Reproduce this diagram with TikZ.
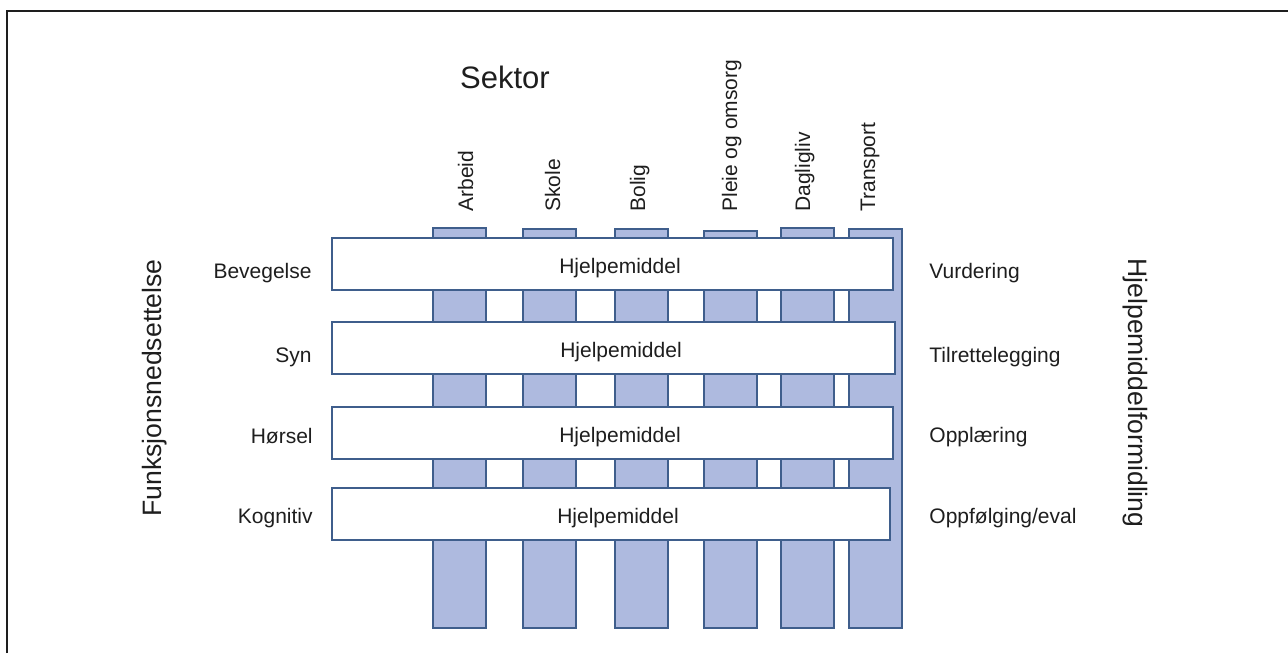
\documentclass[tikz,border=0pt]{standalone}
\usepackage{fontspec}
\setmainfont{Liberation Sans}
\usepackage{xcolor}
\usetikzlibrary{positioning}
\definecolor{sekfill}{HTML}{AEBADF}
\definecolor{sekedge}{HTML}{3F5E8C}
\definecolor{tekst}{HTML}{1E1E1E}

\begin{document}
\begin{tikzpicture}[x=0.5pt, y=-0.5pt,
        every node/.style={text=tekst, font=\fontsize{10.5}{12}\selectfont},
        sektor/.style={draw=sekedge, fill=sekfill, line width=0.75pt, minimum width=26.5pt, inner sep=0pt, anchor=north west},
        hjelp/.style={draw=sekedge, fill=white, line width=0.75pt, minimum height=26pt, inner sep=0pt, anchor=north west},
        kolonne/.style={rotate=90, anchor=base west, inner sep=0pt},
        rad/.style={anchor=base east, inner sep=0pt},
        form/.style={anchor=base west, inner sep=0pt}]
        \useasboundingbox (0,0) rectangle (1288,653);
        \draw[line width=1pt, color=tekst] (7,653) -- (7,11) -- (1288,11);

        %\tikzset{sektor/.append style={opacity=0.5}}
        \node[sektor, minimum height=200pt] (arb) at (432,227) {};
        \node[sektor, minimum height=199.5pt] (sko) at (522,228) {};
        \node[sektor, minimum height=199.5pt] (bol) at (614,228) {};
        \node[sektor, minimum height=198.5pt] (ple) at (703,230) {};
        \node[sektor, minimum height=200pt] (dag) at (780,227) {};
        \node[sektor, minimum height=199.5pt] (tra) at (848,228) {};

        \node[kolonne] (larb) at (473,212) {Arbeid};
        \node[kolonne] (lsko) at (560,212) {Skole};
        \node[kolonne] (lbol) at (645,212) {Bolig};
        \node[kolonne] (lple) at (737,212) {Pleie og omsorg};
        \node[kolonne] (ldag) at (810,212) {Dagligliv};
        \node[kolonne] (ltra) at (875,212) {Transport};
        \node[anchor=base, font=\fontsize{15.5}{18}\selectfont] (sek) at (505,88) {Sektor};

        \node[hjelp, minimum width=280.5pt] (r1) at (331,237) {};
        \node[hjelp, minimum width=281.5pt] (r2) at (331,321) {};
        \node[hjelp, minimum width=280.5pt] (r3) at (331,406) {};
        \node[hjelp, minimum width=279pt] (r4) at (331,487) {};

        \node[anchor=base] (h1) at (620,273) {Hjelpemiddel};
        \node[anchor=base] (h2) at (621,357) {Hjelpemiddel};
        \node[anchor=base] (h3) at (620,442) {Hjelpemiddel};
        \node[anchor=base] (h4) at (618,523) {Hjelpemiddel};

        \node[rad] (bev) at (312,278) {Bevegelse};
        \node[rad] (syn) at (312,362) {Syn};
        \node[rad] (hor) at (313,443) {Hørsel};
        \node[rad] (kog) at (313,523) {Kognitiv};

        \node[form] (vur) at (929,278) {Vurdering};
        \node[form] (til) at (929,362) {Tilrettelegging};
        \node[form] (opp) at (929,442) {Opplæring};
        \node[form] (oev) at (929,523) {Oppfølging/eval};

        \node[rotate=90, font=\fontsize{13.3}{16}\selectfont] (fun) at (155,388) {Funksjonsnedsettelse};
        \node[rotate=-90, font=\fontsize{13.3}{16}\selectfont] (hjf) at (1135,393) {Hjelpemiddelformidling};
    \end{tikzpicture}
\end{document}
